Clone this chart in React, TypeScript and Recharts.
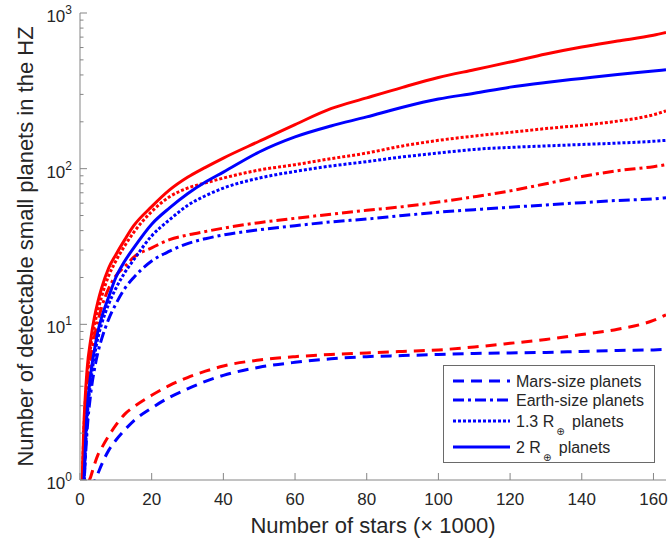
import { Legend, Line, LineChart, XAxis, YAxis } from 'recharts';

// number of stars (× 1000) sampled along every curve
const STARS = [0.5, 1, 2, 3, 4, 5, 6, 8, 10, 12.5, 15, 20, 25, 30, 35, 40, 50, 60, 70, 80, 90, 100, 110, 120, 130, 140, 150, 160, 163.5];

// red = first model, blue = second model
const MARS_RED = [0.45, 0.6, 0.9, 1.05, 1.25, 1.45, 1.6, 1.92, 2.25, 2.65, 2.95, 3.5, 4.05, 4.55, 5, 5.4, 5.9, 6.2, 6.4, 6.55, 6.7, 6.85, 7.15, 7.55, 8, 8.6, 9.3, 10.6, 11.5];
const MARS_BLUE = [0.3, 0.4, 0.6, 0.8, 0.97, 1.1, 1.25, 1.55, 1.8, 2.1, 2.4, 2.9, 3.4, 3.85, 4.3, 4.7, 5.3, 5.7, 6, 6.2, 6.3, 6.4, 6.5, 6.55, 6.6, 6.7, 6.8, 6.85, 6.9];
const EARTH_RED = [0.6, 1.6, 4, 6.2, 8.3, 10.5, 12.8, 17, 20.5, 23.5, 27, 31, 35, 37.5, 39.5, 41.5, 45, 48, 51, 54, 57, 61, 66, 72, 80, 89, 97, 103, 106];
const EARTH_BLUE = [0.3, 0.75, 2.1, 3.6, 5.1, 6.6, 8, 10.8, 13.5, 17, 20, 25.5, 29.5, 33, 35.5, 37.5, 40.5, 43, 45.5, 47.5, 50, 52.5, 54.5, 56.5, 58.5, 60.5, 62.5, 64, 65];
const R13_RED = [0.7, 1.8, 4.6, 7.2, 9.8, 12.3, 15, 20.5, 25.5, 32, 39, 53, 66, 75, 81, 87, 98, 106, 116, 126, 140, 152, 162, 171, 181, 190, 202, 222, 235];
const R13_BLUE = [0.35, 0.8, 2.5, 4.3, 6.2, 8.2, 10, 13.5, 17, 21.5, 26, 37, 47, 58, 67, 75, 87, 96, 104, 111, 119, 126, 133, 137, 140, 143, 146, 150, 152];
const R2_RED = [0.8, 2, 5.2, 8, 11, 14, 17, 23, 28, 35, 43, 57, 73, 88, 102, 117, 150, 192, 243, 285, 333, 385, 432, 484, 545, 604, 660, 720, 750];
const R2_BLUE = [0.4, 0.85, 2.8, 4.8, 6.8, 9, 11, 15, 20, 25.5, 31, 44, 56, 69, 82, 95, 128, 160, 188, 215, 248, 280, 305, 334, 358, 380, 403, 424, 432];

const X_TICKS = [0, 20, 40, 60, 80, 100, 120, 140, 160];
const Y_TICKS = [1, 2, 3, 4, 5, 6, 7, 8, 9, 10, 20, 30, 40, 50, 60, 70, 80, 90, 100, 200, 300, 400, 500, 600, 700, 800, 900, 1000];
const X_MAX = 163.5;

const RED = '#ff0000';
const BLUE = '#0000ff';
const AXIS = '#858585';
const TEXT = '#262626';
const FONT = '"Liberation Sans", Arial, Helvetica, sans-serif';

const DASH = {
  mars: '11 7',
  earth: '11 4 3 4',
  r13: '3 2',
  r2: undefined as string | undefined,
};

const SERIES = [
  { key: 'marsRed', values: MARS_RED, color: RED, dash: DASH.mars },
  { key: 'marsBlue', values: MARS_BLUE, color: BLUE, dash: DASH.mars },
  { key: 'earthRed', values: EARTH_RED, color: RED, dash: DASH.earth },
  { key: 'earthBlue', values: EARTH_BLUE, color: BLUE, dash: DASH.earth },
  { key: 'r13Red', values: R13_RED, color: RED, dash: DASH.r13 },
  { key: 'r13Blue', values: R13_BLUE, color: BLUE, dash: DASH.r13 },
  { key: 'r2Red', values: R2_RED, color: RED, dash: DASH.r2 },
  { key: 'r2Blue', values: R2_BLUE, color: BLUE, dash: DASH.r2 },
];

const LEGEND_ROWS = [
  { text: 'Mars-size planets', sub: '', rest: '', dash: DASH.mars },
  { text: 'Earth-size planets', sub: '', rest: '', dash: DASH.earth },
  { text: '1.3 R', sub: '⊕', rest: ' planets', dash: DASH.r13 },
  { text: '2 R', sub: '⊕', rest: ' planets', dash: DASH.r2 },
];
const LEGEND_ROW_Y = [16, 35, 56, 82];

const rows = STARS.map((x, i) => {
  const row: Record<string, number> = { x };
  SERIES.forEach((s) => {
    row[s.key] = s.values[i];
  });
  return row;
});

const isMajor = (v: number) => Math.abs(Math.log10(v) - Math.round(Math.log10(v))) < 1e-6;

function BottomTick(props: any) {
  const { x, y, payload } = props;
  return (
    <g>
      <line x1={x} y1={y} x2={x} y2={y - 7} stroke={AXIS} />
      <text x={x} y={y + 25} textAnchor="middle" fontSize={17} fill={TEXT} fontFamily={FONT}>
        {payload.value}
      </text>
    </g>
  );
}

function TopTick(props: any) {
  const { x, y } = props;
  return <line x1={x} y1={y} x2={x} y2={y + 7} stroke={AXIS} />;
}

function LeftTick(props: any) {
  const { x, y, payload } = props;
  const v = payload.value as number;
  const major = isMajor(v);
  return (
    <g>
      <line x1={x} y1={y} x2={x + (major ? 7 : 3.5)} y2={y} stroke={AXIS} />
      {major ? (
        <text x={x - 8} y={y + 9} textAnchor="end" fontSize={17} fill={TEXT} fontFamily={FONT}>
          10
          <tspan dy={-8} fontSize={12}>
            {Math.round(Math.log10(v))}
          </tspan>
        </text>
      ) : null}
    </g>
  );
}

function RightTick(props: any) {
  const { x, y, payload } = props;
  const major = isMajor(payload.value as number);
  return <line x1={x} y1={y} x2={x - (major ? 7 : 3.5)} y2={y} stroke={AXIS} />;
}

function XTitle(props: any) {
  const vb = props.viewBox;
  return (
    <text x={vb.x + vb.width / 2} y={vb.y + 53} textAnchor="middle" fontSize={22} fill={TEXT} fontFamily={FONT}>
      Number of stars (× 1000)
    </text>
  );
}

function YTitle(props: any) {
  const vb = props.viewBox;
  const cx = 33;
  const cy = vb.y + vb.height / 2;
  return (
    <text
      x={cx}
      y={cy}
      transform={`rotate(-90 ${cx} ${cy})`}
      textAnchor="middle"
      fontSize={22}
      fill={TEXT}
      fontFamily={FONT}
    >
      Number of detectable small planets in the HZ
    </text>
  );
}

function LegendBox() {
  return (
    <svg width={213} height={99} style={{ display: 'block' }}>
      <rect x={0.5} y={0.5} width={211} height={97} fill="#fff" stroke="#6a6a6a" />
      {LEGEND_ROWS.map((r, i) => {
        const y = LEGEND_ROW_Y[i];
        return (
          <g key={r.text}>
            <line x1={10} x2={67} y1={y} y2={y} stroke={BLUE} strokeWidth={3} strokeDasharray={r.dash} />
            <text x={73} y={y + 6} fontSize={16} fill={TEXT} fontFamily={FONT}>
              {r.text}
              {r.sub ? (
                <tspan dx={2} dy={8} fontSize={10} fontFamily='"DejaVu Sans", sans-serif'>
                  {r.sub}
                </tspan>
              ) : null}
              {r.rest ? (
                <tspan dx={3} dy={r.sub ? -8 : 0}>
                  {r.rest}
                </tspan>
              ) : null}
            </text>
          </g>
        );
      })}
    </svg>
  );
}

export default function App() {
  return (
    <div style={{ position: 'absolute', left: 0, top: 0, width: 670, height: 542, background: '#fff' }}>
      <LineChart width={670} height={542} data={rows} margin={{ top: 13, right: 4, bottom: 0, left: 0 }}>
        <XAxis
          xAxisId="b"
          dataKey="x"
          type="number"
          domain={[0, X_MAX]}
          allowDataOverflow
          ticks={X_TICKS}
          interval={0}
          tick={<BottomTick />}
          tickLine={false}
          tickSize={0}
          tickMargin={0}
          height={62}
          stroke={AXIS}
          label={<XTitle />}
        />
        <XAxis
          xAxisId="t"
          orientation="top"
          dataKey="x"
          type="number"
          domain={[0, X_MAX]}
          allowDataOverflow
          ticks={X_TICKS}
          interval={0}
          tick={<TopTick />}
          tickLine={false}
          tickSize={0}
          tickMargin={0}
          height={0}
          stroke={AXIS}
        />
        <YAxis
          yAxisId="l"
          type="number"
          scale="log"
          domain={[1, 1000]}
          allowDataOverflow
          ticks={Y_TICKS}
          interval={0}
          tick={<LeftTick />}
          tickLine={false}
          tickSize={0}
          tickMargin={0}
          width={80}
          stroke={AXIS}
          label={<YTitle />}
        />
        <YAxis
          yAxisId="r"
          orientation="right"
          type="number"
          scale="log"
          domain={[1, 1000]}
          allowDataOverflow
          ticks={Y_TICKS}
          interval={0}
          tick={<RightTick />}
          tickLine={false}
          tickSize={0}
          tickMargin={0}
          width={0}
          stroke={AXIS}
        />
        {SERIES.map((s) => (
          <Line
            key={s.key}
            xAxisId="b"
            yAxisId="l"
            dataKey={s.key}
            type="monotone"
            stroke={s.color}
            strokeWidth={3}
            strokeDasharray={s.dash}
            dot={false}
            activeDot={false}
            isAnimationActive={false}
          />
        ))}
        <Legend
          layout="vertical"
          align="center"
          verticalAlign="middle"
          wrapperStyle={{ left: 443, top: 365, width: 213, height: 99 }}
          content={<LegendBox />}
        />
      </LineChart>
    </div>
  );
}
